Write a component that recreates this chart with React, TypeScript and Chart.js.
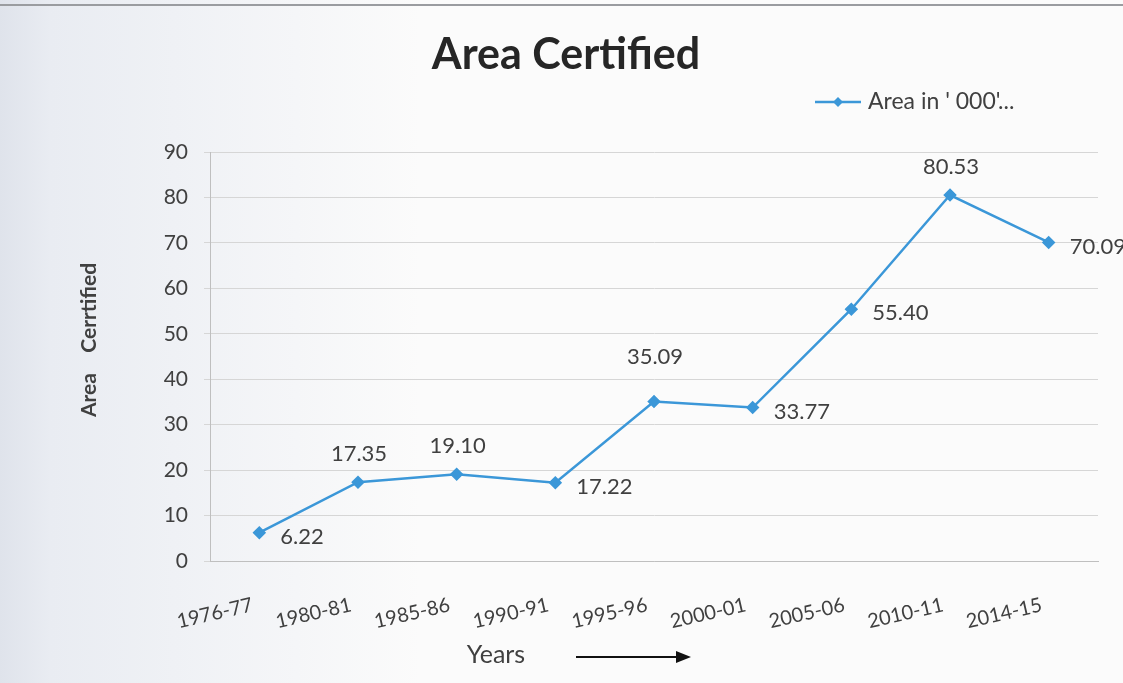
import React, { useEffect, useRef } from "react";
import { Chart, registerables } from "chart.js";

Chart.register(...registerables);

const categories = ["1976-77", "1980-81", "1985-86", "1990-91", "1995-96", "2000-01", "2005-06", "2010-11", "2014-15"];
const areaValues = [6.22, 17.35, 19.1, 17.22, 35.09, 33.77, 55.4, 80.53, 70.09];
const valueLabels = ["6.22", "17.35", "19.10", "17.22", "35.09", "33.77", "55.40", "80.53", "70.09"];
const labelPlacement = ["right", "above", "above", "right", "aboveFar", "right", "right", "above", "right"];
const yTicks = [0, 10, 20, 30, 40, 50, 60, 70, 80, 90];

const chartTitle = "Area Certified";
const seriesName = "Area in ' 000'...";
const yTitle = "Area    Cerrtified";
const xTitle = "Years";

const FONT = "Lato, 'Open Sans', sans-serif";
const TEXT = "#404040";
const BLUE = "#3b97d8";

const decorPlugin = {
  id: "decor",
  beforeDraw(chart: any) {
    const { ctx, width, height } = chart;
    ctx.save();
    const g = ctx.createLinearGradient(0, 0, 420, 0);
    g.addColorStop(0, "#dfe3eb");
    g.addColorStop(0.12, "#e9ecf2");
    g.addColorStop(1, "#fbfbfb");
    ctx.fillStyle = g;
    ctx.fillRect(0, 0, width, height);
    ctx.fillStyle = "#9a9ca0";
    ctx.fillRect(0, 4, width, 2);
    ctx.restore();
  },
  afterDraw(chart: any) {
    const { ctx } = chart;
    ctx.save();
    // Title
    ctx.fillStyle = "#262626";
    ctx.font = `bold 43px ${FONT}`;
    ctx.textAlign = "center";
    ctx.textBaseline = "middle";
    ctx.fillText(chartTitle, 566, 55);
    // Legend
    ctx.strokeStyle = BLUE;
    ctx.lineWidth = 2.5;
    ctx.beginPath();
    ctx.moveTo(815, 102);
    ctx.lineTo(861, 102);
    ctx.stroke();
    ctx.fillStyle = BLUE;
    ctx.beginPath();
    ctx.moveTo(838, 97);
    ctx.lineTo(843, 102);
    ctx.lineTo(838, 107);
    ctx.lineTo(833, 102);
    ctx.closePath();
    ctx.fill();
    ctx.fillStyle = TEXT;
    ctx.font = `23px ${FONT}`;
    ctx.textAlign = "left";
    ctx.fillText(seriesName, 868, 102);
    // Y title
    ctx.save();
    ctx.translate(89, 340);
    ctx.rotate(-Math.PI / 2);
    ctx.font = `bold 21px ${FONT}`;
    ctx.textAlign = "center";
    ctx.fillStyle = TEXT;
    ctx.fillText(yTitle, 0, 0);
    ctx.restore();
    // X title and arrow
    ctx.font = `25px ${FONT}`;
    ctx.textAlign = "center";
    ctx.fillStyle = TEXT;
    ctx.fillText(xTitle, 496, 655);
    ctx.strokeStyle = "#111";
    ctx.lineWidth = 2;
    ctx.beginPath();
    ctx.moveTo(576, 657);
    ctx.lineTo(680, 657);
    ctx.stroke();
    ctx.fillStyle = "#111";
    ctx.beginPath();
    ctx.moveTo(691, 657);
    ctx.lineTo(676, 651);
    ctx.lineTo(676, 663);
    ctx.closePath();
    ctx.fill();
    // Data labels
    const meta = chart.getDatasetMeta(0);
    ctx.font = `22px ${FONT}`;
    ctx.fillStyle = TEXT;
    ctx.textBaseline = "middle";
    meta.data.forEach((pt: any, i: number) => {
      const p = labelPlacement[i];
      if (p === "right") {
        ctx.textAlign = "left";
        ctx.fillText(valueLabels[i], pt.x + 21, pt.y + 4);
      } else {
        ctx.textAlign = "center";
        ctx.fillText(valueLabels[i], pt.x + 1, pt.y - (p === "aboveFar" ? 45 : 28));
      }
    });
    ctx.restore();
  },
};

export default function App() {
  const ref = useRef<HTMLCanvasElement>(null);
  useEffect(() => {
    if (!ref.current) return;
    const chart = new Chart(ref.current, {
      type: "line",
      data: {
        labels: categories,
        datasets: [
          {
            label: seriesName,
            data: areaValues,
            borderColor: BLUE,
            backgroundColor: BLUE,
            borderWidth: 2.5,
            pointStyle: "rectRot",
            pointRadius: 5,
            pointHoverRadius: 5,
            tension: 0,
          },
        ],
      },
      options: {
        animation: false,
        responsive: false,
        layout: { padding: { left: 150, top: 152, right: 25, bottom: 0 } },
        plugins: { legend: { display: false }, title: { display: false }, tooltip: { enabled: false } },
        scales: {
          x: {
            offset: true,
            grid: { display: false, drawTicks: false },
            border: { color: "#bfbfbf" },
            ticks: {
              color: TEXT,
              font: { family: FONT, size: 20 },
              minRotation: 13,
              maxRotation: 13,
              padding: 32,
              labelOffset: -7,
            },
            afterFit(scale: any) {
              scale.height = 122;
            },
          },
          y: {
            min: 0,
            max: 90,
            afterBuildTicks(scale: any) {
              scale.ticks = yTicks.map((v) => ({ value: v }));
            },
            grid: { color: "#d6d6d6", tickLength: 6, tickColor: "#d6d6d6" },
            border: { color: "#bfbfbf" },
            ticks: { color: TEXT, font: { family: FONT, size: 21 }, padding: 16 },
            afterFit(scale: any) {
              scale.width = 60;
            },
          },
        },
      },
      plugins: [decorPlugin],
    });
    return () => chart.destroy();
  }, []);
  return (
    <div style={{ position: "fixed", left: 0, top: 0, width: 1123, height: 683 }}>
      <canvas ref={ref} width={1123} height={683} style={{ width: 1123, height: 683, display: "block" }} />
    </div>
  );
}
